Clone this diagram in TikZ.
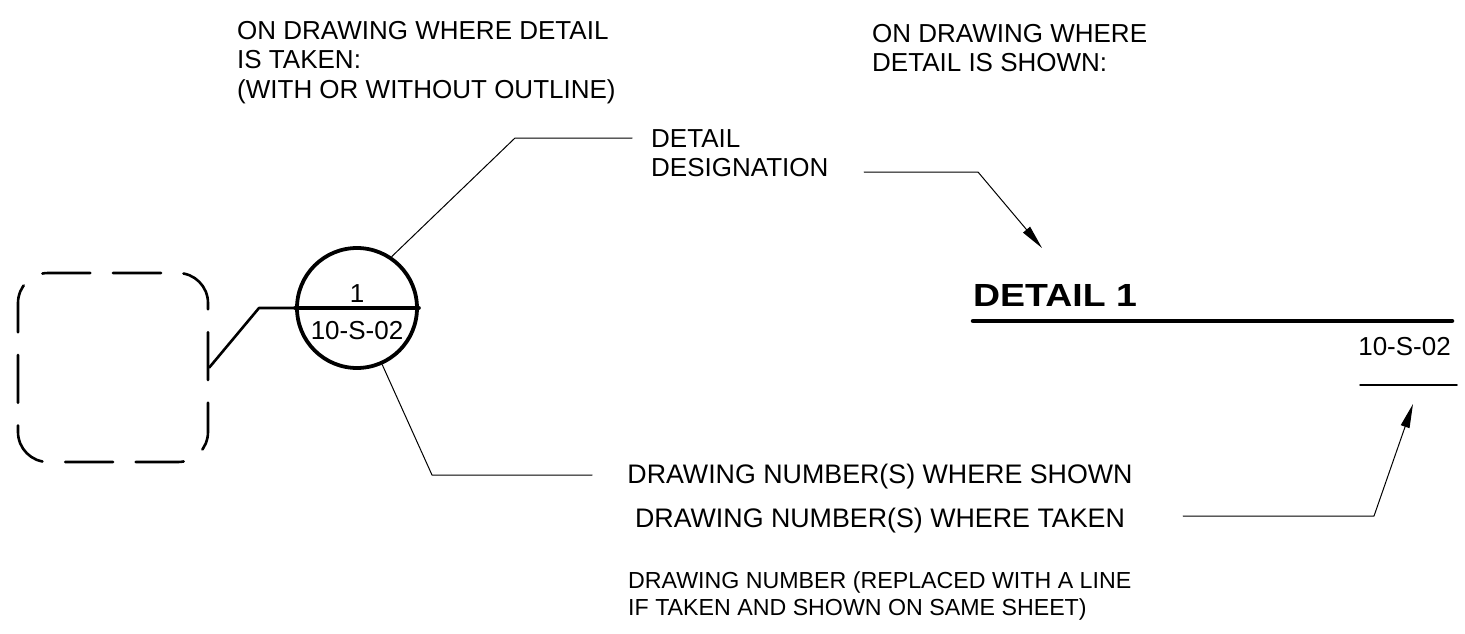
\documentclass[tikz,border=0pt]{standalone}
\usepackage{fontspec}
\setmainfont{Liberation Sans}
\newfontfamily\titlefont[FakeStretch=1.17]{Liberation Sans}
\usetikzlibrary{arrows.meta}

\begin{document}
\begin{tikzpicture}[
    x=1pt, y=-1pt, line cap=round, line join=round,
    note/.style={font=\fontsize{26}{29.5}\selectfont, inner sep=0, align=left},
    small note/.style={note, font=\fontsize{23.2}{27}\selectfont},
    wide note/.style={note, font=\fontsize{26.8}{30}\selectfont},
    leader/.style={line width=1pt},
    pointer/.style={leader, -{Triangle[length=24pt, width=9pt]}},
    callout/.style={shape=circle, draw, line width=3.8pt, minimum size=120pt, inner sep=0},
    outline/.style={draw, line width=2.6pt, rounded corners=30pt,
      dash pattern=on 48pt off 22.65pt, dash phase=53.65pt,
      minimum width=190pt, minimum height=189pt},
  ]
  \useasboundingbox (0,0) rectangle (1465,634);

  % Where taken
  \node [note, anchor=north west] (takenhdr) at (237,21)
    {ON DRAWING WHERE DETAIL\\IS TAKEN:\\(WITH OR WITHOUT OUTLINE)};
  \node [outline] (area) at (113,367.5) {};
  \node [callout] (bubble) at (357,308) {};
  \draw [line width=3.8pt] (bubble.west) -- (bubble.east);
  \node [note, anchor=base] (num) at (357,302) {1};
  \node [note, anchor=base] (sheet) at (357,339) {10-S-02};
  \draw [line width=2.6pt] (area.east) -- (259,308) -- (bubble.west);

  % Where shown
  \node [note, anchor=north west] (shownhdr) at (872,24)
    {ON DRAWING WHERE\\DETAIL IS SHOWN:};
  \node [anchor=base west, inner sep=0, font=\fontsize{32}{38}\titlefont\bfseries] (title) at (973,306) {DETAIL 1};
  \draw [line width=4.5pt] (973,321) -- (1452,321);
  \node [note, anchor=base east] (sheetref) at (1451,355) {10-S-02};
  \draw [line width=1.5pt] (1360,385) -- (1457,385);

  % Labels
  \node [note, anchor=north west] (desig) at (651,129) {DETAIL\\DESIGNATION};
  \node [wide note, anchor=base] (whereshown) at (880,483) {DRAWING NUMBER(S) WHERE SHOWN};
  \node [wide note, anchor=base] (wheretaken) at (880,527) {DRAWING NUMBER(S) WHERE TAKEN};
  \node [small note, anchor=north west] (replaced) at (628,571)
    {DRAWING NUMBER (REPLACED WITH A LINE\\IF TAKEN AND SHOWN ON SAME SHEET)};

  % Leaders
  \coordinate (tiptitle) at (1042,248);
  \coordinate (tipline) at (1413,404);
  \draw [leader] (bubble.56) -- (515,138) -- (632,138);
  \draw [leader] (bubble.-66) -- (432,475) -- (592,475);
  \draw [pointer] (864,172) -- (978,172) -- (tiptitle);
  \draw [pointer] (1183,516) -- (1374,516) -- (tipline);
\end{tikzpicture}
\end{document}
